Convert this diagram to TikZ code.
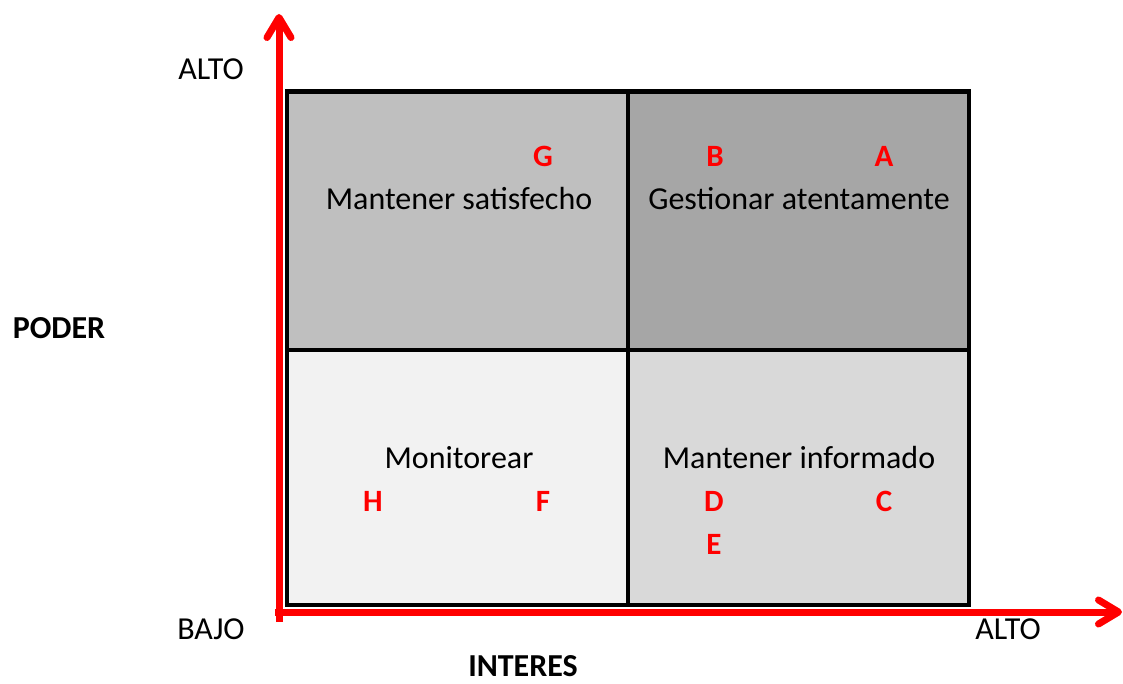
\documentclass[tikz,border=0pt]{standalone}
\usepackage{fontspec}
\setmainfont{Carlito}
\usetikzlibrary{arrows.meta}
\definecolor{cTL}{HTML}{BFBFBF}
\definecolor{cTR}{HTML}{A6A6A6}
\definecolor{cBL}{HTML}{F2F2F2}
\definecolor{cBR}{HTML}{D9D9D9}
\definecolor{axisred}{HTML}{FF0000}
\tikzset{
  axis/.style={draw=axisred, line width=7pt, -{Straight Barb[length=20pt,width=24pt,line cap=round,line join=round]}},
  cell/.style={draw=black, line width=4.5pt},
  txt/.style={anchor=base, inner sep=0pt, font=\fontsize{32}{38}\selectfont},
  btxt/.style={anchor=base, inner sep=0pt, font=\fontsize{32}{38}\selectfont\bfseries},
  lbl/.style={anchor=base, inner sep=0pt, text=axisred, font=\fontsize{31}{37}\selectfont\bfseries},
}
\begin{document}
\begin{tikzpicture}[x=1pt,y=-1pt]
\useasboundingbox (0,0) rectangle (1123,684);
% axes
\coordinate (vbot) at (279,622);
\coordinate (vtop) at (279,14);
\coordinate (hleft) at (275,612);
\coordinate (hright) at (1122,612);
\draw[axis] (vbot) -- (vtop);
\draw[axis] (hleft) -- (hright);
% cells
\fill[cTL] (287,91.5) rectangle (628,350);
\fill[cTR] (628,91.5) rectangle (969,350);
\fill[cBL] (287,350) rectangle (628,605);
\fill[cBR] (628,350) rectangle (969,605);
\draw[cell] (287,91.5) rectangle (969,605);
\draw[cell] (628,91.5) -- (628,605);
\draw[cell] (287,350) -- (969,350);
% axis texts
\node[txt] (altoy) at (211,80) {ALTO};
\node[txt] (bajo) at (211,639) {BAJO};
\node[txt] (altox) at (1008,639) {ALTO};
\node[btxt] (poder) at (59,338) {PODER};
\node[btxt] (interes) at (523,676) {INTERES};
% quadrant texts
\node[txt] (q1) at (459,210) {Mantener satisfecho};
\node[txt] (q2) at (799,210) {Gestionar atentamente};
\node[txt] (q3) at (459,468) {Monitorear};
\node[txt] (q4) at (799,468) {Mantener informado};
% stakeholders
\node[lbl] (G) at (543,167) {G};
\node[lbl] (B) at (715,167) {B};
\node[lbl] (A) at (884,167) {A};
\node[lbl] (H) at (373,511) {H};
\node[lbl] (F) at (543,511) {F};
\node[lbl] (D) at (714,511) {D};
\node[lbl] (C) at (884,511) {C};
\node[lbl] (E) at (714,554) {E};
\end{tikzpicture}
\end{document}
